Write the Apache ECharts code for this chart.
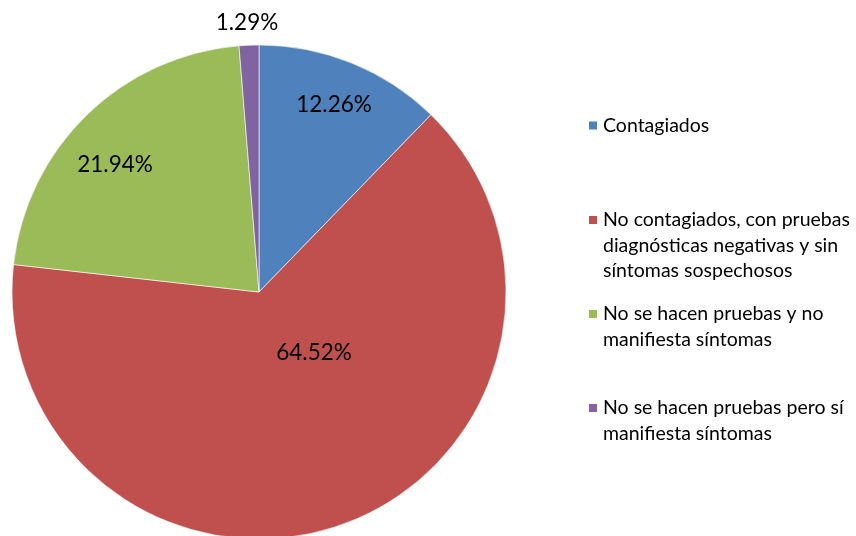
<!DOCTYPE html>
<html>
<head>
<meta charset="utf-8">
<script src="https://cdn.jsdelivr.net/npm/echarts@6/dist/echarts.min.js"></script>
<style>html,body{margin:0;padding:0;background:#fff}#c{width:856px;height:536px}</style>
</head>
<body>
<div id="c"></div>
<script>
const categories = [
  'Contagiados',
  'No contagiados, con pruebas diagnósticas negativas y sin síntomas sospechosos',
  'No se hacen pruebas y no manifiesta síntomas',
  'No se hacen pruebas pero sí manifiesta síntomas'
];
const legendLines = [
  ['Contagiados'],
  ['No contagiados, con pruebas', 'diagnósticas negativas y sin', 'síntomas sospechosos'],
  ['No se hacen pruebas y no', 'manifiesta síntomas'],
  ['No se hacen pruebas pero sí', 'manifiesta síntomas']
];
const values = [12.26, 64.52, 21.94, 1.29];
const colors = ['#4F81BD', '#C0504D', '#9BBB59', '#8064A2'];

const FONT = 'Lato';
const LH = 25.5;
const iconCenters = [125.5, 220, 314, 408];
const labelTargets = [[334, 105], [314, 353], [115, 165], [247, 23]];

const chart = echarts.init(document.getElementById('c'), null, {renderer: 'canvas'});

const legends = categories.map((name, i) => {
  const n = legendLines[i].length;
  return {
    data: [name],
    orient: 'vertical',
    left: 587,
    top: iconCenters[i] - (2 * n - 1) * LH / 2,
    padding: 0,
    itemWidth: 10,
    itemHeight: 10,
    itemGap: 0,
    icon: 'rect',
    selectedMode: false,
    formatter: () => '\n'.repeat(n - 1) + legendLines[i].join('\n'),
    textStyle: {
      fontFamily: FONT,
      fontSize: 19.5,
      color: '#000',
      lineHeight: LH
    }
  };
});

chart.setOption({
  animation: false,
  color: colors,
  legend: legends,
  series: [{
    type: 'pie',
    center: [259, 292],
    radius: 247,
    startAngle: 90,
    clockwise: true,
    label: {
      show: true,
      position: 'inside',
      formatter: p => p.value.toFixed(2) + '%',
      fontFamily: FONT,
      fontSize: 22.5,
      color: '#000'
    },
    labelLine: {show: false},
    labelLayout: function (params) {
      const r = params.labelRect;
      const t = labelTargets[params.dataIndex];
      return {dx: t[0] - (r.x + r.width / 2), dy: t[1] - (r.y + r.height / 2)};
    },
    itemStyle: {borderColor: '#fff', borderWidth: 0.6},
    emphasis: {disabled: true},
    data: categories.map((c, i) => ({name: c, value: values[i]}))
  }]
});
</script>
</body>
</html>
